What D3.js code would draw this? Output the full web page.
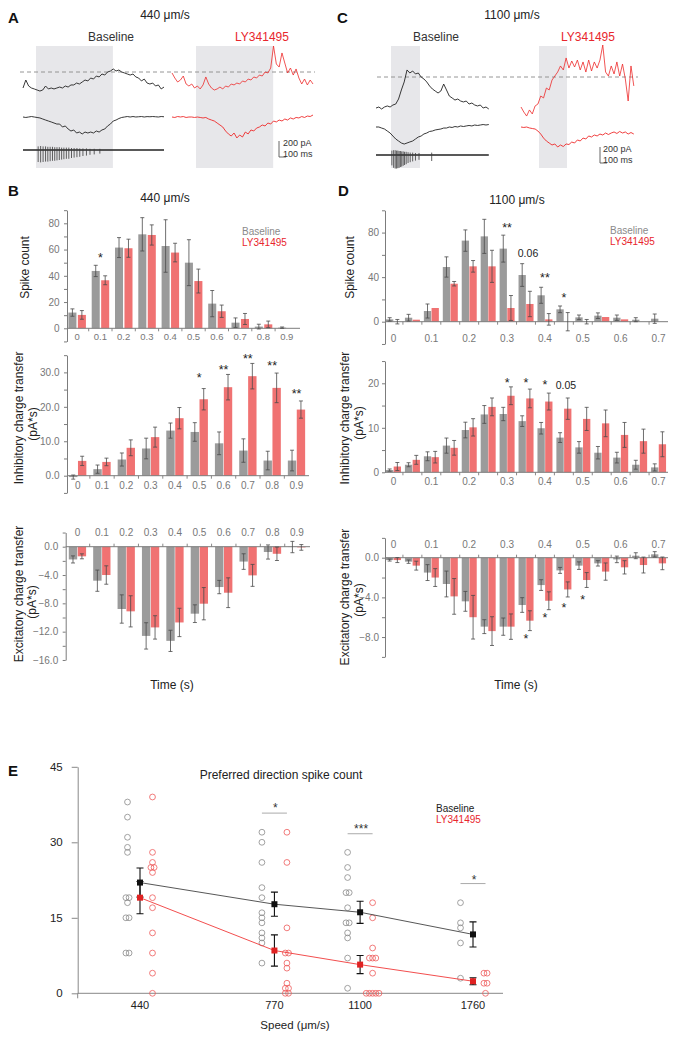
<!DOCTYPE html>
<html>
<head>
<meta charset="utf-8">
<script src="https://cdn.jsdelivr.net/npm/d3@7/dist/d3.min.js"></script>
<style>
html,body{margin:0;padding:0;background:#fff;}
svg{display:block;}
</style>
</head>
<body>
<svg id="fig" width="680" height="1040" xmlns="http://www.w3.org/2000/svg"></svg>
<script>
// ================= DATA =================
// Example traces (pA), sampled every 40 ms
const traceStepMs = 40;
const aInhBase = [-200,-100,-175,-200,-212,-225,-238,-225,-175,-212,-200,-212,-200,-188,-200,-175,-188,-162,-162,-138,-150,-125,-100,-112,-75,-88,-50,-62,-25,-38,0,12,38,12,25,0,-12,-25,-38,-25,-62,-75,-112,-88,-138,-150,-138,-175,-162,-212,-188];
const aExcBase = [0,-6,0,6,0,-6,-12,-25,-38,-50,-62,-75,-88,-88,-125,-112,-150,-175,-162,-200,-188,-212,-188,-200,-188,-200,-175,-188,-162,-150,-112,-88,-50,-38,-19,-6,0,6,0,6,0,3,6,0,5,3,6,3,0,6,3];
const aInhLY = [-12,-75,-125,-100,-50,-150,-175,-150,-200,-175,-212,-162,-62,-150,-200,-225,-212,-188,-212,-175,-188,-150,-162,-138,-150,-112,-125,-88,-100,-62,-75,-38,-50,0,-12,50,325,100,62,238,112,-12,50,-38,38,-75,-150,-88,-162,-100,-150];
const aExcLY = [0,-6,6,0,6,-6,0,0,-6,0,-6,-12,-6,-25,-38,-50,-75,-100,-125,-175,-212,-238,-200,-262,-225,-250,-188,-212,-162,-175,-138,-125,-100,-112,-75,-88,-50,-62,-38,-50,-25,-38,-12,-25,-6,-12,6,-6,12,6,25];
const aSpikeTimes = [215,250,285,320,352,385,418,450,482,515,548,580,615,650,688,725,765,805,850,900,950,1010,1090];
const aSpikeDown = [-150,-155,-150,-145,-145,-140,-135,-135,-130,-125,-120,-115,-110,-110,-100,-95,-90,-85,-75,-70,-60,-55,-45];
const aSpikeUp = [45,50,45,45,40,40,40,35,35,35,30,30,30,30,25,25,25,20,20,20,15,15,15];
const cInhBase = [-388,-375,-400,-375,-362,-375,-350,-338,-275,-162,-62,88,50,75,38,50,0,-25,-62,-112,-150,-175,-200,-175,-88,-162,-238,-262,-288,-275,-300,-312,-300,-338,-325,-350,-362,-350,-388,-375,-400];
const cExcBase = [-25,-25,-38,-50,-75,-100,-138,-175,-200,-225,-238,-225,-212,-200,-175,-150,-138,-112,-100,-81,-75,-62,-56,-50,-38,-38,-25,-31,-19,-25,-12,-19,-12,-6,-12,0,-6,0,6,0,6];
const cInhLY = [-375,-438,-488,-412,-462,-362,-338,-238,-262,-138,-162,-38,12,62,138,88,238,112,200,125,212,88,188,62,212,75,188,112,212,400,62,12,138,38,188,12,162,-25,-300,138,-112];
const cExcLY = [0,-6,0,-12,-19,-25,-50,-88,-138,-175,-200,-225,-212,-250,-225,-244,-212,-219,-188,-200,-162,-175,-138,-150,-112,-125,-100,-112,-88,-100,-75,-94,-75,-62,-81,-56,-75,-62,-88,-69,-88];
const cSpikeTimes = [225,250,272,292,310,328,346,365,385,405,428,455,485,520,560,610,790];
const cSpikeDown = [-130,-160,-170,-170,-165,-160,-150,-145,-135,-125,-115,-100,-90,-80,-70,-60,-75];
const cSpikeUp = [55,60,60,55,55,50,50,45,45,40,40,35,30,30,25,25,30];
const aStimBase = [185,1275], aStimLY = [340,1435];
const cStimBase = [213,624], cStimLY = [255,652];

// Panel B (440 um/s), 0.1 s bins
const bins440 = ["0","0.1","0.2","0.3","0.4","0.5","0.6","0.7","0.8","0.9"];
const spike440Base = [12,43.7,61.5,71.6,62.7,50,18.8,4.3,1.3,0.5];
const spike440BaseErr = [2.8,4.3,7.6,12.7,20,17.5,10,3.6,1.8,0.5];
const spike440LY = [10.2,36.6,61,71.1,57.7,36,13,7.1,3,0];
const spike440LYErr = [3.3,3.4,6.9,7.7,7.1,9.1,4.7,4.2,2.5,0];
const inh440Base = [-0.4,1.9,4.7,7.9,13.1,12.7,9.4,7.3,4.4,4.4];
const inh440BaseErr = [0.6,1.2,1.9,3.0,2.2,2.7,3.3,3.4,2.7,3.0];
const inh440LY = [4.3,4.0,8.1,11.2,16.7,22.2,25.7,28.9,25.5,19.2];
const inh440LYErr = [1.35,1.1,2.3,2.9,3.1,3.1,3.7,3.7,4.3,2.5];
const exc440Base = [-1.8,-4.8,-8.8,-12.6,-13.3,-9.46,-5.7,-2.1,-0.75,-0.05];
const exc440BaseErr = [0.5,1.5,2.0,1.86,1.5,1.25,0.94,1.1,1.0,0.8];
const exc440LY = [-1.36,-4.0,-9.13,-11.4,-10.7,-8.05,-6.5,-4.05,-1.0,-0.1];
const exc440LYErr = [0.35,1.3,2.2,1.65,2.0,2.28,2.1,1.55,0.95,0.4];

// Panel D (1100 um/s), 0.05 s bins
const bins1100 = ["0","0.05","0.1","0.15","0.2","0.25","0.3","0.35","0.4","0.45","0.5","0.55","0.6","0.65","0.7"];
const labels1100 = ["0","","0.1","","0.2","","0.3","","0.4","","0.5","","0.6","","0.7"];
const spike1100Base = [2.1,3.6,9.6,49.1,72.8,76.6,65.6,41.9,23.7,11.1,3.9,5.4,3.6,1.8,2.7];
const spike1100BaseErr = [1.5,3,6.3,9.1,9.6,15.3,12.1,10.2,7.2,3,2.1,2.5,2.4,1.8,4.2];
const spike1100LY = [0,1.8,12.3,34.1,49.7,49.7,12.3,15.9,2.1,0,0,4.2,2.1,0,0];
const spike1100LYErr = [2,0,0,2,5.2,14.4,11.2,11.4,5.2,8.2,2,0,0,0,0];
const inh1100Base = [0.5,1.7,3.6,6.0,9.5,13.0,13.1,11.5,9.9,7.8,5.6,4.4,3.3,1.7,1.1];
const inh1100BaseErr = [0.25,0.45,1.0,1.7,1.76,2.0,1.5,1.2,1.3,1.1,1.3,1.4,1.2,1.0,0.8];
const inh1100LY = [1.3,2.8,3.4,5.5,10.1,14.7,17.2,16.6,15.9,14.3,12.0,11.0,8.4,7.0,6.3];
const inh1100LYErr = [0.9,1.0,1.3,1.65,1.95,2.0,2.0,2.1,1.9,2.4,2.6,3.0,2.8,2.7,2.8];
const exc1100Base = [-0.24,-0.4,-1.5,-2.65,-4.4,-6.95,-6.95,-4.77,-2.76,-1.28,-0.8,-0.57,-0.17,0.2,0.34];
const exc1100BaseErr = [0.1,0.17,0.8,1.3,1.0,0.7,0.87,0.74,0.54,0.3,0.38,0.27,0.33,0.3,0.27];
const exc1100LY = [-0.24,-0.8,-2.0,-3.9,-6.0,-7.4,-6.95,-6.35,-4.34,-3.2,-2.25,-1.4,-0.97,-0.74,-0.57];
const exc1100LYErr = [0.25,0.45,0.9,1.8,2.2,1.45,1.28,1.0,0.9,0.76,0.75,0.87,0.67,0.8,0.64];

// Significance labels (bin index, text, value level)
const notesSpike440 = [{i:1,t:"*",v:55.8}];
const notesInh440 = [{i:5,t:"*",v:29.2},{i:6,t:"**",v:31.7},{i:7,t:"**",v:34.8},{i:8,t:"**",v:32.8},{i:9,t:"**",v:24.7}];
const notesSpike1100 = [{i:6,t:"**",v:86.8},{i:7,t:"0.06",v:61.4},{i:8,t:"**",v:41.9},{i:9,t:"*",v:24}];
const notesInh1100 = [{i:6,t:"*",v:20.7},{i:7,t:"*",v:20.7},{i:8,t:"*",v:20.4},{i:9,t:"0.05",v:19.6}];
const notesExc1100 = [{i:7,t:"*",v:-7.86},{i:8,t:"*",v:-5.78},{i:9,t:"*",v:-4.77},{i:10,t:"*",v:-3.99}];

// Panel E
const speeds = [440,770,1100,1760];
const baseMean = [22,17.7,16.1,11.7];
const baseSem = [2.9,2.4,2.2,2.5];
const lyMean = [19,8.5,5.7,2.4];
const lySem = [3.2,3.1,1.8,0.7];
const baseCells = [[38,35,31,29,28,19,19,18,15,15,8,8],[32,30,26,21,19,16,15,14,12,11,10,6],[28,25,23,20,20,17,14,14,12,11,7,1],[18,14,13,10,3]];
const lyCells = [[39,28,26,25,25,24,19,17,12,8,4,0],[32,26,13,8,8,6,5,2,1,1,0,0],[18,15,9,7,7,7,4,0,0,0,0,0],[4,4,2,2,0]];
const sigText = ["","*","***","*"];
const sigLineLevel = [0,35.8,31.7,21.8];
const sigTextLevel = [0,37.4,33.1,23.1];
const eTicks = [0,15,30,45];

// ================= DRAWING =================
const FONT = '"Liberation Sans", Arial, Helvetica, sans-serif';
const svg = d3.select("#fig").attr("font-family", FONT);
const RED_TXT = "#e8262d", GRAY_BAR = "#9b9b9b", RED_BAR = "#f07272", AXC = "#7c7c7c", TICKC = "#777", ERRC = "#4a4a4a";

function label(x,y,s,o={}){
  const t = svg.append("text").attr("x",x).attr("y",y).text(s)
    .attr("font-size",o.size||12).attr("fill",o.fill||"#222")
    .attr("text-anchor",o.anchor||"start");
  if(o.bold) t.attr("font-weight","bold");
  if(o.rot) t.attr("transform",`rotate(-90,${x},${y})`);
  return t;
}

// ---------- Panels A & C ----------
const amp = d3.scaleLinear().domain([0,200]).range([0,-16]); // 200 pA -> 16 px
function traceGroup(cfg){
  const x = d3.scaleLinear().domain([0,cfg.dur]).range(cfg.xr);
  svg.append("rect").attr("x",x(cfg.stim[0])).attr("y",46)
    .attr("width",x(cfg.stim[1])-x(cfg.stim[0])).attr("height",122).attr("fill","#e7e7ea");
  return x;
}
function drawTrace(x, vals, base, color, w){
  const line = d3.line().x((d,i)=>x(i*traceStepMs)).y(d=>base+amp(d));
  svg.append("path").attr("d",line(vals)).attr("fill","none").attr("stroke",color).attr("stroke-width",w).attr("stroke-linejoin","round");
}
function drawSpikes(x, dur, base, times, downs, ups){
  svg.append("line").attr("x1",x(0)).attr("x2",x(dur)).attr("y1",base).attr("y2",base).attr("stroke","#222").attr("stroke-width",1.6);
  times.forEach((t,i)=>{
    svg.append("line").attr("x1",x(t)).attr("x2",x(t)).attr("y1",base+amp(downs[i])).attr("y2",base+amp(ups[i]))
      .attr("stroke","#3a3a3a").attr("stroke-width",0.8);
  });
}
function scaleBar(x, x0, y0, tx){
  const len = x(100)-x(0);
  svg.append("path").attr("d",`M${x0},${y0+amp(200)}V${y0}H${x0+len}`).attr("fill","none").attr("stroke","#555").attr("stroke-width",0.9);
  label(tx, y0+amp(200)+5, "200 pA", {size:9, fill:"#333"});
  label(tx, y0-0.5, "100 ms", {size:9, fill:"#333"});
}

// Panel A
const xAb = traceGroup({dur:2000, xr:[23,164], stim:aStimBase});
const xAl = traceGroup({dur:2000, xr:[172,313], stim:aStimLY});
svg.append("line").attr("x1",20).attr("x2",315).attr("y1",72).attr("y2",72).attr("stroke","#8a8a8a").attr("stroke-dasharray","4,3").attr("stroke-width",0.9);
drawTrace(xAb, aInhBase, 72, "#222", 0.9);
drawTrace(xAb, aExcBase, 117, "#222", 0.9);
drawSpikes(xAb, 2000, 150, aSpikeTimes, aSpikeDown, aSpikeUp);
drawTrace(xAl, aInhLY, 72, "#ee2a2a", 0.8);
drawTrace(xAl, aExcLY, 117, "#ee2a2a", 0.9);
scaleBar(xAb, 279, 157, 283);
label(8,23,"A",{size:15,bold:true,fill:"#111"});
label(165,18.5,"440 \u03bcm/s",{anchor:"middle"});
label(111,40.5,"Baseline",{anchor:"middle",fill:"#333"});
label(262,40.5,"LY341495",{anchor:"middle",fill:RED_TXT});

// Panel C
const xCb = traceGroup({dur:1600, xr:[376,488.8], stim:cStimBase});
const xCl = traceGroup({dur:1600, xr:[521,633.8], stim:cStimLY});
svg.append("line").attr("x1",377).attr("x2",638).attr("y1",77).attr("y2",77).attr("stroke","#8a8a8a").attr("stroke-dasharray","4,3").attr("stroke-width",0.9);
drawTrace(xCb, cInhBase, 77, "#222", 0.9);
drawTrace(xCb, cExcBase, 125, "#222", 0.9);
drawSpikes(xCb, 1600, 155, cSpikeTimes, cSpikeDown, cSpikeUp);
drawTrace(xCl, cInhLY, 77, "#ee2a2a", 0.8);
drawTrace(xCl, cExcLY, 127, "#ee2a2a", 0.9);
scaleBar(xCb, 600, 163, 603);
label(337,23,"C",{size:15,bold:true,fill:"#111"});
label(512,18.5,"1100 \u03bcm/s",{anchor:"middle"});
label(436,40.5,"Baseline",{anchor:"middle",fill:"#333"});
label(588,40.5,"LY341495",{anchor:"middle",fill:RED_TXT});

// ---------- Bar panels ----------
function barPanel(o){
  const g = svg.append("g");
  const y = d3.scaleLinear().domain([o.yMin,o.yMax]).range([o.y0 - o.yMin*o.ppu, o.y0 - o.yMax*o.ppu]);
  const x = d3.scaleBand().domain(d3.range(o.cats.length)).range(o.xRange);
  const xi = d3.scaleBand().domain([0,1]).range(o.inner).paddingInner(o.innerPad);
  const series = [{v:o.base,e:o.baseErr,c:GRAY_BAR},{v:o.ly,e:o.lyErr,c:RED_BAR}];
  series.forEach((s,k)=>{
    g.append("g").selectAll("rect").data(s.v).join("rect")
      .attr("x",(d,i)=>x(i)+xi(k)).attr("width",xi.bandwidth())
      .attr("y",d=>Math.min(y(d),y(0))).attr("height",d=>Math.abs(y(d)-y(0)))
      .attr("fill",s.c);
  });
  const y0 = y(0);
  g.append("line").attr("x1",o.axisX).attr("x2",o.xEnd).attr("y1",y0).attr("y2",y0).attr("stroke",AXC).attr("stroke-width",1);
  const tdir = o.labelsAbove ? -3 : 3;
  for(let i=1;i<o.cats.length;i++){
    const xx = x(i);
    g.append("line").attr("x1",xx).attr("x2",xx).attr("y1",y0).attr("y2",y0+tdir).attr("stroke",AXC).attr("stroke-width",0.9);
  }
  series.forEach((s,k)=>{
    s.v.forEach((d,i)=>{
      const e = s.e[i]; if(!e) return;
      const cx = x(i)+xi(k)+xi.bandwidth()/2;
      const ya = y(d-e), yb = y(d+e);
      g.append("path").attr("d",`M${cx},${ya}V${yb}M${cx-2},${ya}H${cx+2}M${cx-2},${yb}H${cx+2}`)
        .attr("stroke",ERRC).attr("stroke-width",0.8).attr("fill","none");
    });
  });
  const ax = d3.axisLeft(y).tickValues(o.major.concat(o.minor)).tickSize(3).tickSizeOuter(0).tickPadding(o.tickPad)
    .tickFormat(d=>o.major.includes(d)?o.fmt(d):"");
  const ga = g.append("g").attr("transform",`translate(${o.axisX},0)`).call(ax);
  ga.attr("font-family",FONT).attr("font-size",10);
  ga.select(".domain").attr("stroke",AXC);
  ga.selectAll(".tick line").attr("stroke",AXC);
  ga.selectAll(".tick text").attr("fill",TICKC);
  o.labels.forEach((l,i)=>{
    if(!l) return;
    g.append("text").attr("x",x(i)+x.bandwidth()/2).attr("y",o.labelY).attr("text-anchor","middle")
      .attr("font-size",o.labelSize||10).attr("fill",TICKC).text(l);
  });
  (o.notes||[]).forEach(n=>{
    const star = /^\*+$/.test(n.t);
    const fs = star ? 12.5 : 10.5;
    const off = star ? 0.57*fs : 0.36*fs;
    g.append("text").attr("x",x(n.i)+x.bandwidth()/2+(star?0:2)).attr("y",y(n.v)+off).attr("text-anchor","middle")
      .attr("font-size",fs).attr("fill","#222").text(n.t);
  });
  (o.ytitle||[]).forEach(t=>{
    label(t.x,t.y,t.s,{anchor:"middle",rot:true,size:12,fill:"#222"});
  });
}
const f0 = d3.format("d"), f1 = d3.format(".1f");

// Panel B
label(8,196,"B",{size:15,bold:true,fill:"#111"});
label(165,202,"440 \u03bcm/s",{anchor:"middle"});
label(242,234.6,"Baseline",{size:10,fill:"#8a8a8a"});
label(242,245.6,"LY341495",{size:10,fill:RED_TXT});
barPanel({cats:bins440,labels:bins440,base:spike440Base,baseErr:spike440BaseErr,ly:spike440LY,lyErr:spike440LYErr,
  yMin:-10,yMax:90,y0:328.3,ppu:1.3125,xRange:[65.4,298.4],inner:[3,20.5],innerPad:0.15,axisX:67,xEnd:300,
  major:[0,20,40,60,80],minor:[-10,10,30,50,70,90],fmt:f0,tickPad:4.5,labelY:340,labelSize:9.5,notes:notesSpike440,
  ytitle:[{x:28.5,y:267.5,s:"Spike count"}]});
barPanel({cats:bins440,labels:bins440,base:inh440Base,baseErr:inh440BaseErr,ly:inh440LY,lyErr:inh440LYErr,
  yMin:-5,yMax:35,y0:475.7,ppu:3.444,xRange:[65.55,308.65],inner:[3.5,20.8],innerPad:0.06,axisX:67,xEnd:309,
  major:[0,10,20,30],minor:[-5,5,15,25,35],fmt:f1,tickPad:4.5,labelY:489,notes:notesInh440,
  ytitle:[{x:23,y:418,s:"Inhibitory charge transfer"},{x:37,y:424,s:"(pA*s)"}]});
barPanel({cats:bins440,labels:bins440,base:exc440Base,baseErr:exc440BaseErr,ly:exc440LY,lyErr:exc440LYErr,
  yMin:-16,yMax:2,y0:546.7,ppu:7.08,xRange:[65.3,309.1],inner:[3.5,20.8],innerPad:0.06,axisX:65.7,xEnd:310,labelsAbove:true,
  major:[0,-4,-8,-12,-16],minor:[2,-2,-6,-10,-14],fmt:f1,tickPad:4.5,labelY:535.5,
  ytitle:[{x:23,y:594,s:"Excitatory charge transfer"},{x:36,y:602,s:"(pA*s)"}]});
label(172,689,"Time (s)",{anchor:"middle",size:12});

// Panel D
label(338,196,"D",{size:15,bold:true,fill:"#111"});
label(517,204,"1100 \u03bcm/s",{anchor:"middle"});
label(610,234.3,"Baseline",{size:10,fill:"#8a8a8a"});
label(610,245.3,"LY341495",{size:10,fill:RED_TXT});
barPanel({cats:bins1100,labels:labels1100,base:spike1100Base,baseErr:spike1100BaseErr,ly:spike1100LY,lyErr:spike1100LYErr,
  yMin:-20,yMax:100,y0:321.7,ppu:1.114,xRange:[384,668],inner:[2,17],innerPad:0.05,axisX:385,xEnd:668,
  major:[0,40,80],minor:[-20,20,60,100],fmt:f0,tickPad:3,labelY:342,notes:notesSpike1100,
  ytitle:[{x:354,y:267.5,s:"Spike count"}]});
barPanel({cats:bins1100,labels:labels1100,base:inh1100Base,baseErr:inh1100BaseErr,ly:inh1100LY,lyErr:inh1100LYErr,
  yMin:0,yMax:25,y0:472.3,ppu:4.45,xRange:[384,668],inner:[2,17],innerPad:0.05,axisX:385,xEnd:668,
  major:[0,10,20],minor:[5,15,25],fmt:f0,tickPad:3,labelY:485,notes:notesInh1100,
  ytitle:[{x:349,y:418,s:"Inhibitory charge transfer"},{x:363,y:423,s:"(pA*s)"}]});
barPanel({cats:bins1100,labels:labels1100,base:exc1100Base,baseErr:exc1100BaseErr,ly:exc1100LY,lyErr:exc1100LYErr,
  yMin:-10,yMax:2,y0:557.7,ppu:9.92,xRange:[384,668],inner:[2,17],innerPad:0.05,axisX:385,xEnd:668,labelsAbove:true,
  major:[0,-4,-8],minor:[2,-2,-6,-10],fmt:f1,tickPad:3,labelY:548,notes:notesExc1100,
  ytitle:[{x:349,y:597,s:"Excitatory charge transfer"},{x:363,y:600,s:"(pA*s)"}]});
label(516,689,"Time (s)",{anchor:"middle",size:12});

// ---------- Panel E ----------
label(8,776,"E",{size:15,bold:true,fill:"#111"});
label(281,779,"Preferred direction spike count",{anchor:"middle",size:12});
const ex = d3.scaleLog().domain([440,1760]).range([140,473]);
const ey = d3.scaleLinear().domain([0,45]).range([993.3,766.8]);
const eg = svg.append("g");
const eax = d3.axisLeft(ey).tickValues(eTicks).tickSize(6).tickSizeOuter(0).tickPadding(9).tickFormat(d3.format("d"));
const ega = eg.append("g").attr("transform","translate(77.7,0)").call(eax);
ega.attr("font-family",FONT).attr("font-size",11.5);
ega.select(".domain").attr("stroke","#888");
ega.selectAll(".tick line").attr("stroke","#888");
ega.selectAll(".tick text").attr("fill","#222");
eg.append("line").attr("x1",77.7).attr("x2",77.7).attr("y1",ey(0)).attr("y2",ey(0)+5).attr("stroke","#888");
eg.append("line").attr("x1",77.7).attr("x2",503).attr("y1",ey(0)).attr("y2",ey(0)).attr("stroke","#888");
speeds.forEach(s=>{
  eg.append("text").attr("x",ex(s)).attr("y",1008.5).attr("text-anchor","middle").attr("font-size",11).attr("fill","#222").text(s);
});
label(295,1029,"Speed (\u03bcm/s)",{anchor:"middle",size:11.5});

function cellOffsets(arr){
  return arr.map((v,i)=>{
    const same = arr.filter(w=>w===v).length;
    const j = arr.slice(0,i).filter(w=>w===v).length;
    return (j-(same-1)/2)*3.2;
  });
}
speeds.forEach((s,k)=>{
  const ob = cellOffsets(baseCells[k]);
  baseCells[k].forEach((v,i)=>{
    eg.append("circle").attr("cx",ex(s)-12.5+ob[i]).attr("cy",ey(v)).attr("r",2.9)
      .attr("fill","none").attr("stroke","#8a8a8a").attr("stroke-width",0.8);
  });
  const ol = cellOffsets(lyCells[k]);
  lyCells[k].forEach((v,i)=>{
    eg.append("circle").attr("cx",ex(s)+12.5+ol[i]).attr("cy",ey(v)).attr("r",2.9)
      .attr("fill","none").attr("stroke","#ee5a5a").attr("stroke-width",0.8);
  });
});
const eline = (m)=> d3.line().x((d,i)=>ex(speeds[i])).y(d=>ey(d))(m);
eg.append("path").attr("d",eline(baseMean)).attr("fill","none").attr("stroke","#444").attr("stroke-width",0.9);
eg.append("path").attr("d",eline(lyMean)).attr("fill","none").attr("stroke","#f03a3a").attr("stroke-width",0.9);
function eErr(m,se,col){
  speeds.forEach((s,i)=>{
    const cx = ex(s), ya = ey(m[i]-se[i]), yb = ey(m[i]+se[i]);
    eg.append("path").attr("d",`M${cx},${ya}V${yb}M${cx-3.5},${ya}H${cx+3.5}M${cx-3.5},${yb}H${cx+3.5}`)
      .attr("stroke","#111").attr("stroke-width",1.1).attr("fill","none");
    eg.append("rect").attr("x",cx-3).attr("y",ey(m[i])-3).attr("width",6).attr("height",6).attr("fill",col);
  });
}
eErr(baseMean, baseSem, "#111");
eErr(lyMean, lySem, "#e02222");
speeds.forEach((s,i)=>{
  if(!sigText[i]) return;
  eg.append("line").attr("x1",ex(s)-12.5).attr("x2",ex(s)+12.5).attr("y1",ey(sigLineLevel[i])).attr("y2",ey(sigLineLevel[i]))
    .attr("stroke","#aaa").attr("stroke-width",1);
  eg.append("text").attr("x",ex(s)+1).attr("y",ey(sigTextLevel[i])+6.5).attr("text-anchor","middle")
    .attr("font-size",12).attr("fill","#333").text(sigText[i]);
});
label(436,811.5,"Baseline",{size:10,fill:"#222"});
label(436,822.5,"LY341495",{size:10,fill:RED_TXT});
</script>
</body>
</html>
